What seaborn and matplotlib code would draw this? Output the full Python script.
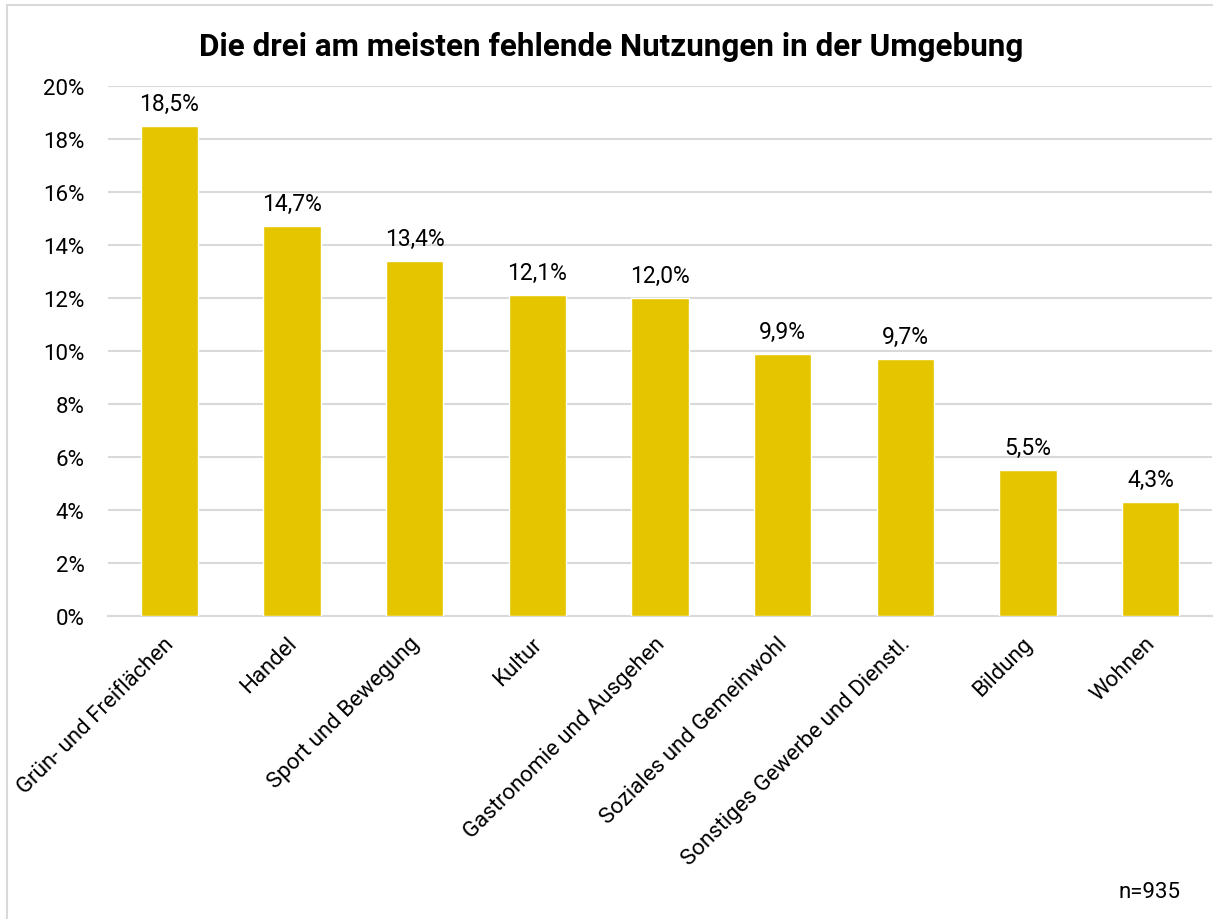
import matplotlib
matplotlib.use("Agg")
import matplotlib.pyplot as plt
import matplotlib.patches as mpatches
import matplotlib.transforms as mtransforms
from matplotlib.ticker import FixedLocator, PercentFormatter
import seaborn as sns
import pandas as pd

# Daten
kategorien = ["Grün- und Freiflächen", "Handel", "Sport und Bewegung", "Kultur",
              "Gastronomie und Ausgehen", "Soziales und Gemeinwohl",
              "Sonstiges Gewerbe und Dienstl.", "Bildung", "Wohnen"]
anteile = [18.5, 14.7, 13.4, 12.1, 12.0, 9.9, 9.7, 5.5, 4.3]
beschriftung = ["18,5%", "14,7%", "13,4%", "12,1%", "12,0%", "9,9%", "9,7%", "5,5%", "4,3%"]
titel = "Die drei am meisten fehlende Nutzungen in der Umgebung"
fallzahl = "n=935"

df = pd.DataFrame({"kategorie": kategorien, "anteil": anteile})

sns.set_style("white")
plt.rcParams["font.family"] = ["Roboto", "DejaVu Sans"]
plt.rcParams["text.color"] = "black"
plt.rcParams["xtick.color"] = "black"
plt.rcParams["ytick.color"] = "black"

gelb = "#E5C500"
grau = "#D9D9D9"
schrift = 16

fig = plt.figure(figsize=(12.13, 9.2), dpi=100)
ax = fig.add_axes([108 / 1213, 1 - 617 / 920, (1212 - 108) / 1213, (617 - 87) / 920])

sns.barplot(data=df, x="kategorie", y="anteil", color=gelb, width=0.465,
            saturation=1, ax=ax, zorder=3)

ax.set_ylim(0, 20)
ax.set_xlim(-0.5, len(kategorien) - 0.5)
ax.set_yticks(range(0, 21, 2))
ax.yaxis.set_major_formatter(PercentFormatter(decimals=0))
ax.grid(axis="y", color=grau, linewidth=1.5, zorder=0)
ax.set_axisbelow(True)

for s in ["top", "right", "left"]:
    ax.spines[s].set_visible(False)
ax.spines["bottom"].set_color(grau)
ax.spines["bottom"].set_linewidth(1.5)

# Striche zwischen den Kategorien
ax.xaxis.set_minor_locator(FixedLocator([i - 0.5 for i in range(len(kategorien) + 1)]))
ax.tick_params(axis="x", which="minor", length=7, width=1.5, color=grau, direction="out")
ax.tick_params(axis="x", which="major", length=0, pad=12, colors="black")
ax.tick_params(axis="y", length=0, pad=17, labelsize=schrift, colors="black")
ax.set_xticks(range(len(kategorien)))
ax.set_xticklabels(kategorien, rotation=45, ha="right", rotation_mode="anchor", fontsize=schrift)
verschiebung = mtransforms.ScaledTranslation(-6 / 100, 0, fig.dpi_scale_trans)
for lbl in ax.get_xticklabels():
    lbl.set_transform(lbl.get_transform() + verschiebung)
ax.set_xlabel("")
ax.set_ylabel("")

for i, (wert, txt) in enumerate(zip(anteile, beschriftung)):
    ax.annotate(txt, (i, wert), xytext=(0, 8), textcoords="offset points",
                ha="center", va="bottom", fontsize=schrift + 0.5)

fig.text(611 / 1213, 1 - 47 / 920, titel, ha="center", va="center",
         fontsize=22.6, fontweight="bold")
fig.text(1181 / 1213, 1 - 893 / 920, fallzahl, ha="right", va="center", fontsize=schrift)

# Rahmen
rahmen = mpatches.Rectangle((7 / 1213, -0.1), 1.2, 1.1 - 6 / 920, transform=fig.transFigure,
                            fill=False, edgecolor=grau, linewidth=1.5)
fig.patches.append(rahmen)

fig.savefig("out.png", dpi=100)
